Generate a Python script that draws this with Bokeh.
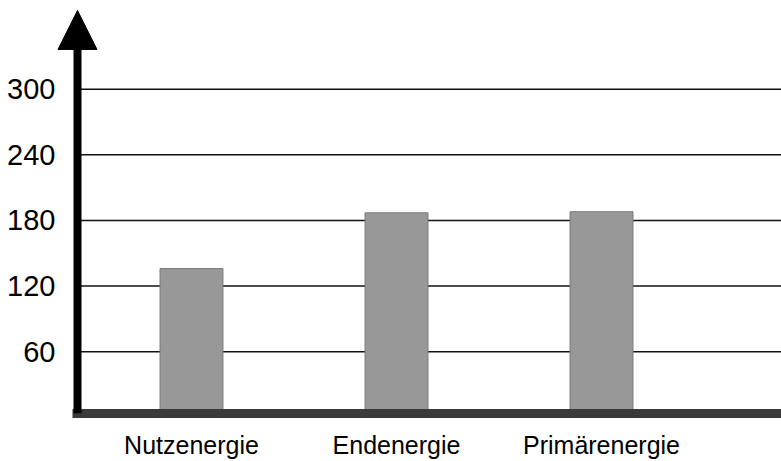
from bokeh.plotting import figure
from bokeh.models import Range1d, FixedTicker, Arrow, NormalHead
from bokeh.embed import file_html
from bokeh.resources import INLINE

# ---- data ----
categories = ["Nutzenergie", "Endenergie", "Primärenergie"]
values = [136, 187, 188]
y_ticks = [60, 120, 180, 240, 300]
x_pos = [1, 2, 3]

FONT = "Liberation Sans"

X_START, X_END = 0.3415, 3.878
Y_START, Y_END = 3.42, 381.2
AXIS_X = 0.4439        # where the vertical axis shaft stands
ARROW_TIP = 372.1
ARROW_BASE = 338.0

p = figure(width=781, height=461, output_backend="svg", toolbar_location=None,
           x_range=Range1d(X_START, X_END), y_range=Range1d(Y_START, Y_END),
           min_border_left=56, min_border_right=0, min_border_top=0,
           min_border_bottom=47)
p.outline_line_color = None
p.background_fill_color = "white"
p.border_fill_color = "white"
p.xgrid.grid_line_color = None
p.ygrid.grid_line_color = None

# horizontal grid lines starting at the vertical axis
p.segment(x0=[AXIS_X] * len(y_ticks), x1=[X_END] * len(y_ticks),
          y0=y_ticks, y1=y_ticks, line_color="#111111", line_width=1.5,
          level="underlay")

p.vbar(x=x_pos, top=values, bottom=0, width=0.307,
       fill_color="#989898", line_color="#7a7a7a", line_width=1)

# y axis: labels only, shaft drawn as arrow
p.yaxis.ticker = FixedTicker(ticks=y_ticks)
p.yaxis.axis_line_color = None
p.yaxis.major_tick_line_color = None
p.yaxis.minor_tick_line_color = None
p.yaxis.major_tick_out = 0
p.yaxis.major_tick_in = 0
p.yaxis.major_label_standoff = 1
p.yaxis.major_label_text_font = FONT
p.yaxis.major_label_text_font_size = "29px"
p.yaxis.major_label_text_color = "black"

# x axis
p.xaxis.ticker = FixedTicker(ticks=x_pos)
p.xaxis.major_label_overrides = {x: c for x, c in zip(x_pos, categories)}
p.xaxis.bounds = (0.42, X_END)
p.xaxis.axis_line_width = 9
p.xaxis.axis_line_color = "#3a3a3a"
p.xaxis.major_tick_line_color = None
p.xaxis.minor_tick_line_color = None
p.xaxis.major_tick_out = 0
p.xaxis.major_tick_in = 0
p.xaxis.major_label_standoff = 17
p.xaxis.major_label_text_font = FONT
p.xaxis.major_label_text_font_size = "25px"
p.xaxis.major_label_text_color = "black"

# vertical axis shaft and arrow head
p.add_layout(Arrow(end=None, x_start=AXIS_X, y_start=Y_START, x_end=AXIS_X,
                   y_end=ARROW_BASE + 3, line_width=8, line_color="black"))
p.add_layout(Arrow(end=NormalHead(size=39, fill_color="black", line_color="black"),
                   x_start=AXIS_X, y_start=ARROW_BASE, x_end=AXIS_X, y_end=ARROW_TIP,
                   line_width=1, line_color="black"))

open("out.html", "w").write(file_html(p, INLINE))
